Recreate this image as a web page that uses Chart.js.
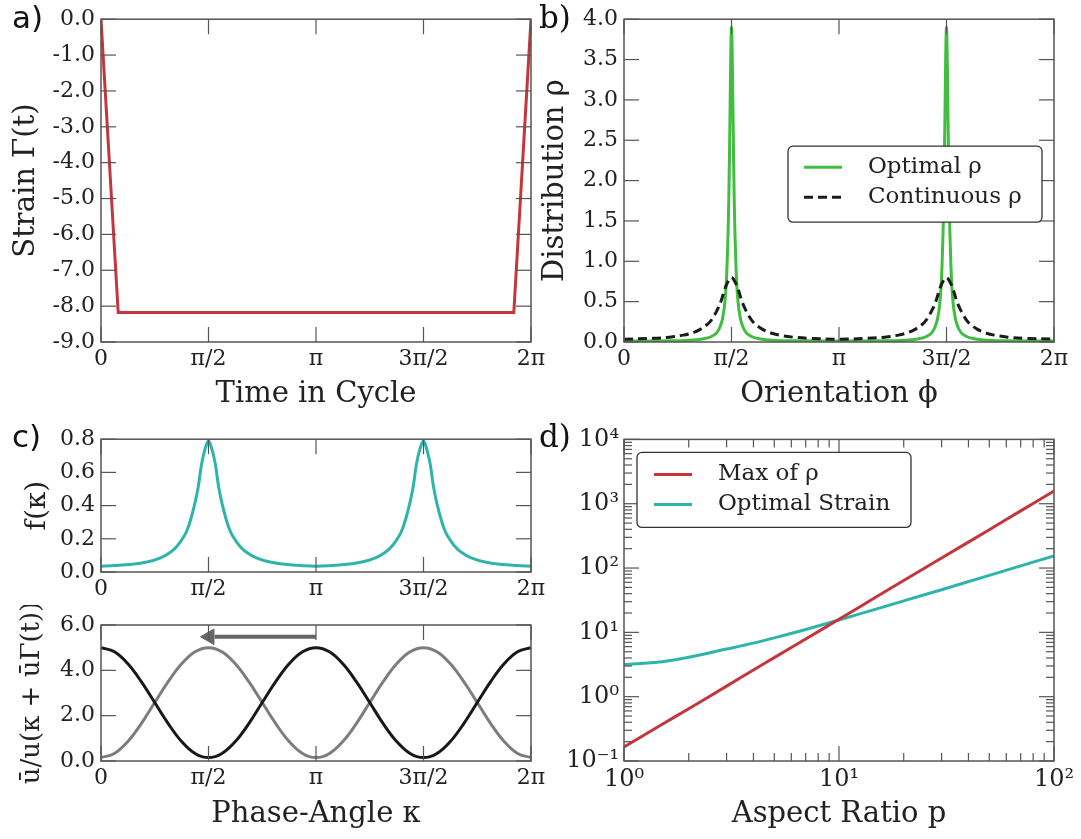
<!DOCTYPE html>
<html>
<head>
<meta charset="utf-8">
<script src="https://cdn.jsdelivr.net/npm/chart.js@4.4.1/dist/chart.umd.min.js"></script>
<style>
  body { margin: 0; background: #fff; }
  #fig { position: relative; width: 1081px; height: 839px; overflow: hidden; background: #fff; }
  #fig canvas { position: absolute; }
  .tag { position: absolute; font-size: 31px; line-height: 31px; color: #111; }
</style>
</head>
<body>
<div id="fig">
  <canvas id="strainChart" width="560" height="412" style="left:0;top:0"></canvas>
  <canvas id="rhoChart" width="551" height="412" style="left:530px;top:0"></canvas>
  <canvas id="fChart" width="560" height="185" style="left:0;top:420px"></canvas>
  <canvas id="uChart" width="560" height="227" style="left:0;top:605px"></canvas>
  <canvas id="aspectChart" width="551" height="412" style="left:530px;top:420px"></canvas>
  <div class="tag" style="left:12px;top:2px;font-family:'DejaVu Sans'">a)</div>
  <div class="tag" style="left:539px;top:2px;font-family:'DejaVu Serif'">b)</div>
  <div class="tag" style="left:12px;top:421px;font-family:'DejaVu Sans'">c)</div>
  <div class="tag" style="left:539px;top:421px;font-family:'DejaVu Serif'">d)</div>
</div>
<script>
// Shared x ticks for the angle axes
const piTicks = [0, Math.PI / 2, Math.PI, 3 * Math.PI / 2, 2 * Math.PI];
const piLabels = ['0', 'π/2', 'π', '3π/2', '2π'];

// a) strain protocol over one cycle
const timeCycle = [0, 0.2513, 6.0319, 6.2832];
const strain = [0, -8.18, -8.18, 0];

// b) optimal distribution (sharp peaks)
const phiOptimal = [0, 0.67, 0.97, 1.15, 1.27, 1.35, 1.40, 1.44, 1.47, 1.49, 1.506, 1.521, 1.531, 1.541, 1.551, 1.561,
    1.571, 1.581, 1.591, 1.601, 1.611, 1.621, 1.636, 1.651, 1.671, 1.701, 1.741, 1.791, 1.871, 1.991, 2.171, 2.471,
    3.142, 3.812, 4.112, 4.292, 4.412, 4.492, 4.542, 4.582, 4.612, 4.632, 4.647, 4.662, 4.672, 4.682, 4.692, 4.702,
    4.712, 4.722, 4.732, 4.742, 4.752, 4.762, 4.777, 4.792, 4.812, 4.842, 4.882, 4.932, 5.012, 5.132, 5.312, 5.612,
    6.283];
const rhoOptimal = [0.012, 0.015, 0.022, 0.038, 0.065, 0.11, 0.18, 0.29, 0.46, 0.67, 0.95, 1.35, 1.75, 2.3, 2.95, 3.6,
    3.9, 3.6, 2.95, 2.3, 1.75, 1.35, 0.95, 0.67, 0.46, 0.29, 0.18, 0.11, 0.065, 0.038, 0.022, 0.015,
    0.012, 0.015, 0.022, 0.038, 0.065, 0.11, 0.18, 0.29, 0.46, 0.67, 0.95, 1.35, 1.75, 2.3, 2.95, 3.6,
    3.9, 3.6, 2.95, 2.3, 1.75, 1.35, 0.95, 0.67, 0.46, 0.29, 0.18, 0.11, 0.065, 0.038, 0.022, 0.015,
    0.012];

// b) continuous distribution and c) f(kappa) share the same angle grid
const peakGrid = [0, 0.42, 0.67, 0.87, 1.02, 1.12, 1.22, 1.27, 1.32, 1.37, 1.42, 1.47, 1.52,
    1.571, 1.62, 1.67, 1.72, 1.77, 1.82, 1.87, 1.92, 2.02, 2.12, 2.27, 2.47, 2.72,
    3.142, 3.56, 3.81, 4.01, 4.16, 4.26, 4.36, 4.41, 4.46, 4.51, 4.56, 4.61, 4.66,
    4.712, 4.76, 4.81, 4.86, 4.91, 4.96, 5.01, 5.06, 5.16, 5.26, 5.41, 5.61, 5.86,
    6.283];
const rhoContinuous = [0.035, 0.045, 0.06, 0.085, 0.12, 0.16, 0.22, 0.265, 0.33, 0.41, 0.51, 0.65, 0.75,
    0.80, 0.75, 0.65, 0.51, 0.41, 0.33, 0.265, 0.22, 0.16, 0.12, 0.085, 0.06, 0.045,
    0.035, 0.045, 0.06, 0.085, 0.12, 0.16, 0.22, 0.265, 0.33, 0.41, 0.51, 0.65, 0.75,
    0.80, 0.75, 0.65, 0.51, 0.41, 0.33, 0.265, 0.22, 0.16, 0.12, 0.085, 0.06, 0.045,
    0.035];
const fKappa = [0.035, 0.045, 0.06, 0.085, 0.12, 0.16, 0.22, 0.265, 0.33, 0.41, 0.51, 0.65, 0.74,
    0.79, 0.74, 0.65, 0.51, 0.41, 0.33, 0.265, 0.22, 0.16, 0.12, 0.085, 0.06, 0.045,
    0.035, 0.045, 0.06, 0.085, 0.12, 0.16, 0.22, 0.265, 0.33, 0.41, 0.51, 0.65, 0.74,
    0.79, 0.74, 0.65, 0.51, 0.41, 0.33, 0.265, 0.22, 0.16, 0.12, 0.085, 0.06, 0.045,
    0.035];

// c) velocity ratio vs phase angle, and the shift arrow
const kappaGrid = [0, 0.196, 0.393, 0.589, 0.785, 0.982, 1.178, 1.374, 1.571, 1.767, 1.963, 2.160, 2.356, 2.553,
    2.749, 2.945, 3.142, 3.338, 3.534, 3.731, 3.927, 4.123, 4.320, 4.516, 4.712, 4.909, 5.105, 5.301, 5.498,
    5.694, 5.890, 6.087, 6.283];
const uBlack = [5.00, 4.82, 4.29, 3.50, 2.58, 1.65, 0.86, 0.33, 0.15, 0.33, 0.86, 1.65, 2.58, 3.50, 4.29, 4.82,
    5.00, 4.82, 4.29, 3.50, 2.58, 1.65, 0.86, 0.33, 0.15, 0.33, 0.86, 1.65, 2.58, 3.50, 4.29, 4.82, 5.00];
const uGrey = [0.15, 0.33, 0.86, 1.65, 2.58, 3.50, 4.29, 4.82, 5.00, 4.82, 4.29, 3.50, 2.58, 1.65, 0.86, 0.33,
    0.15, 0.33, 0.86, 1.65, 2.58, 3.50, 4.29, 4.82, 5.00, 4.82, 4.29, 3.50, 2.58, 1.65, 0.86, 0.33, 0.15];
const arrowX = [3.142, 1.66];
const arrowY = [5.48, 5.48];
const arrowHead = [1.585, 5.48];

// d) scaling with aspect ratio
const aspectRatio = [1, 1.5, 2, 3, 4, 5, 7, 10, 15, 20, 30, 50, 70, 100];
const maxRho = [0.165, 0.37, 0.65, 1.46, 2.6, 4.05, 7.9, 16.0, 36, 64, 143, 395, 775, 1570];
const optimalStrain = [3.15, 3.5, 4.1, 5.5, 6.8, 8.2, 11.1, 15.6, 23.2, 30.9, 46, 77, 108, 154];
const logTicksY = [0.1, 1, 10, 100, 1000, 10000];
const logLabelsY = ['10⁻¹', '10⁰', '10¹', '10²', '10³', '10⁴'];
const logTicksX = [1, 10, 100];
const logLabelsX = ['10⁰', '10¹', '10²'];

const RED = '#c4363b';
const TEAL = '#2fb4aa';
const GREEN = '#3fbe3f';
const INK = '#222';
const SERIF = "'DejaVu Serif', serif";

Chart.defaults.font.family = SERIF;
Chart.defaults.color = INK;
Chart.defaults.animation = false;

const toXY = (xs, ys) => xs.map((x, i) => ({ x: x, y: ys[i] }));
const serif = size => ({ family: SERIF, size: size });

function minorLogValues(min, max) {
    const out = [];
    for (let e = Math.floor(Math.log10(min)); e < Math.ceil(Math.log10(max)); e++) {
        for (let m = 2; m <= 9; m++) {
            const v = m * Math.pow(10, e);
            if (v > min && v < max) out.push(v);
        }
    }
    return out;
}

// Box around the plot plus inward tick marks on all four sides
const frameTicks = {
    id: 'frameTicks',
    afterDatasetsDraw(chart) {
        const { ctx, chartArea: a, scales } = chart;
        const xs = scales.x, ys = scales.y;
        ctx.save();
        ctx.strokeStyle = '#555';
        ctx.lineWidth = 1.2;
        const seg = (x1, y1, x2, y2) => { ctx.beginPath(); ctx.moveTo(x1, y1); ctx.lineTo(x2, y2); ctx.stroke(); };
        const xMarks = (vals, len) => vals.forEach(v => {
            const px = xs.getPixelForValue(v);
            seg(px, a.bottom, px, a.bottom - len);
            seg(px, a.top, px, a.top + len);
        });
        const yMarks = (vals, len) => vals.forEach(v => {
            const py = ys.getPixelForValue(v);
            seg(a.left, py, a.left + len, py);
            seg(a.right, py, a.right - len, py);
        });
        xMarks(xs.ticks.map(t => t.value), 15);
        yMarks(ys.ticks.map(t => t.value), 15);
        if (xs.type === 'logarithmic') xMarks(minorLogValues(xs.min, xs.max), 8);
        if (ys.type === 'logarithmic') yMarks(minorLogValues(ys.min, ys.max), 8);
        ctx.lineWidth = 1.5;
        ctx.strokeRect(a.left, a.top, a.right - a.left, a.bottom - a.top);
        ctx.restore();
    }
};

// Framed legend placed inside the plot area
const boxLegend = {
    id: 'boxLegend',
    afterDatasetsDraw(chart, args, opts) {
        if (!opts || !opts.items) return;
        const { ctx, chartArea: a } = chart;
        const x = a.left + opts.left, y = a.top + opts.top;
        ctx.save();
        ctx.fillStyle = '#fff';
        ctx.strokeStyle = '#333';
        ctx.lineWidth = 1.3;
        ctx.beginPath();
        ctx.roundRect(x, y, opts.width, opts.height, 5);
        ctx.fill();
        ctx.stroke();
        opts.items.forEach((idx, i) => {
            const ds = chart.data.datasets[idx];
            const ly = y + opts.firstRow + i * opts.rowGap;
            ctx.strokeStyle = ds.borderColor;
            ctx.lineWidth = ds.borderWidth;
            ctx.setLineDash(ds.borderDash || []);
            ctx.beginPath();
            ctx.moveTo(x + opts.lineStart, ly);
            ctx.lineTo(x + opts.lineEnd, ly);
            ctx.stroke();
            ctx.setLineDash([]);
            ctx.fillStyle = INK;
            ctx.font = "23px 'DejaVu Serif', serif";
            ctx.textBaseline = 'middle';
            ctx.fillText(ds.label, x + opts.textStart, ly);
        });
        ctx.restore();
    }
};

function angleAxis(title, height) {
    return {
        type: 'linear',
        min: 0,
        max: 2 * Math.PI,
        afterBuildTicks: s => { s.ticks = piTicks.map(v => ({ value: v })); },
        afterFit: s => { s.height = height; },
        grid: { display: false, drawTicks: false },
        border: { display: false },
        ticks: { autoSkip: false, maxRotation: 0, padding: 4, color: INK, font: serif(22), callback: (v, i) => piLabels[i] },
        title: { display: !!title, text: title || '', color: INK, font: serif(29), padding: 0 }
    };
}

function valueAxis(min, max, step, title, titleSize, width) {
    return {
        type: 'linear',
        min: min,
        max: max,
        afterFit: s => { s.width = width; },
        grid: { display: false, drawTicks: false },
        border: { display: false },
        ticks: { stepSize: step, autoSkip: false, padding: 6, color: INK, font: serif(22), callback: v => Number(v).toFixed(1) },
        title: { display: true, text: title, color: INK, font: serif(titleSize), padding: 0 }
    };
}

function lineSet(label, xs, ys, color, extra) {
    return Object.assign({
        label: label,
        data: toXY(xs, ys),
        borderColor: color,
        borderWidth: 3,
        pointRadius: 0,
        fill: false,
        tension: 0.35
    }, extra || {});
}

function baseOptions(padding, scales, plugins) {
    return {
        responsive: false,
        animation: false,
        layout: { padding: padding },
        plugins: Object.assign({ legend: { display: false }, tooltip: { enabled: false } }, plugins || {}),
        scales: scales
    };
}

// a) Strain
new Chart(document.getElementById('strainChart'), {
    type: 'line',
    data: { datasets: [lineSet('Strain', timeCycle, strain, RED, { tension: 0 })] },
    options: baseOptions({ left: 9, top: 15, right: 29, bottom: 0 }, {
        x: angleAxis('Time in Cycle', 70),
        y: valueAxis(-9, 0, 1, 'Strain Γ(t)', 29, 92)
    }),
    plugins: [frameTicks]
});

// b) Distribution
new Chart(document.getElementById('rhoChart'), {
    type: 'line',
    data: {
        datasets: [
            lineSet('Continuous ρ', peakGrid, rhoContinuous, '#1c1c1c', { borderDash: [9, 5] }),
            lineSet('Optimal ρ', phiOptimal, rhoOptimal, GREEN, { tension: 0, cubicInterpolationMode: 'monotone' })
        ]
    },
    options: baseOptions({ left: 8, top: 15, right: 27, bottom: 0 }, {
        x: angleAxis('Orientation ϕ', 70),
        y: valueAxis(0, 4, 0.5, 'Distribution ρ', 29, 86)
    }, {
        boxLegend: { items: [1, 0], left: 164, top: 127, width: 254, height: 76,
            lineStart: 16, lineEnd: 54, textStart: 80, firstRow: 21, rowGap: 30 }
    }),
    plugins: [frameTicks, boxLegend]
});

// c) top: f(kappa)
new Chart(document.getElementById('fChart'), {
    type: 'line',
    data: { datasets: [lineSet('f(κ)', peakGrid, fKappa, TEAL)] },
    options: baseOptions({ left: 21, top: 15, right: 29, bottom: 0 }, {
        x: angleAxis(null, 33),
        y: valueAxis(0, 0.8, 0.2, 'f(κ)', 28, 80)
    }),
    plugins: [frameTicks]
});

// c) bottom: velocity ratio with shift arrow
new Chart(document.getElementById('uChart'), {
    type: 'line',
    data: {
        datasets: [
            lineSet('black', kappaGrid, uBlack, '#181818', { tension: 0.4 }),
            lineSet('grey', kappaGrid, uGrey, '#7d7d7d', { tension: 0.4 }),
            lineSet('arrow', arrowX, arrowY, '#666', { borderWidth: 4, tension: 0 }),
            {
                label: 'arrow head',
                data: [{ x: arrowHead[0], y: arrowHead[1] }],
                showLine: false,
                pointStyle: 'triangle',
                pointRadius: 9,
                pointRotation: -90,
                pointBackgroundColor: '#666',
                pointBorderColor: '#666',
                pointBorderWidth: 1
            }
        ]
    },
    options: baseOptions({ left: 17, top: 20, right: 29, bottom: 0 }, {
        x: angleAxis('Phase-Angle κ', 71),
        y: valueAxis(0, 6, 2, 'ū/u(κ + ūΓ(t))', 26, 84)
    }),
    plugins: [frameTicks]
});

// d) Aspect ratio scaling (log-log)
new Chart(document.getElementById('aspectChart'), {
    type: 'line',
    data: {
        datasets: [
            lineSet('Max of ρ', aspectRatio, maxRho, RED),
            lineSet('Optimal Strain', aspectRatio, optimalStrain, TEAL)
        ]
    },
    options: baseOptions({ left: 0, top: 15, right: 27, bottom: 0 }, {
        x: {
            type: 'logarithmic',
            min: 1,
            max: 100,
            afterBuildTicks: s => { s.ticks = logTicksX.map(v => ({ value: v })); },
            afterFit: s => { s.height = 71; },
            grid: { display: false, drawTicks: false },
            border: { display: false },
            ticks: { autoSkip: false, maxRotation: 0, padding: 4, color: INK, font: serif(24), callback: (v, i) => logLabelsX[i] },
            title: { display: true, text: 'Aspect Ratio p', color: INK, font: serif(29), padding: 0 }
        },
        y: {
            type: 'logarithmic',
            min: 0.1,
            max: 10000,
            afterBuildTicks: s => { s.ticks = logTicksY.map(v => ({ value: v })); },
            afterFit: s => { s.width = 94; },
            grid: { display: false, drawTicks: false },
            border: { display: false },
            ticks: { autoSkip: false, padding: 5, color: INK, font: serif(24), callback: (v, i) => logLabelsY[i] }
        }
    }, {
        boxLegend: { items: [0, 1], left: 13, top: 13, width: 274, height: 75,
            lineStart: 17, lineEnd: 55, textStart: 81, firstRow: 22, rowGap: 30 }
    }),
    plugins: [frameTicks, boxLegend]
});
</script>
</body>
</html>
